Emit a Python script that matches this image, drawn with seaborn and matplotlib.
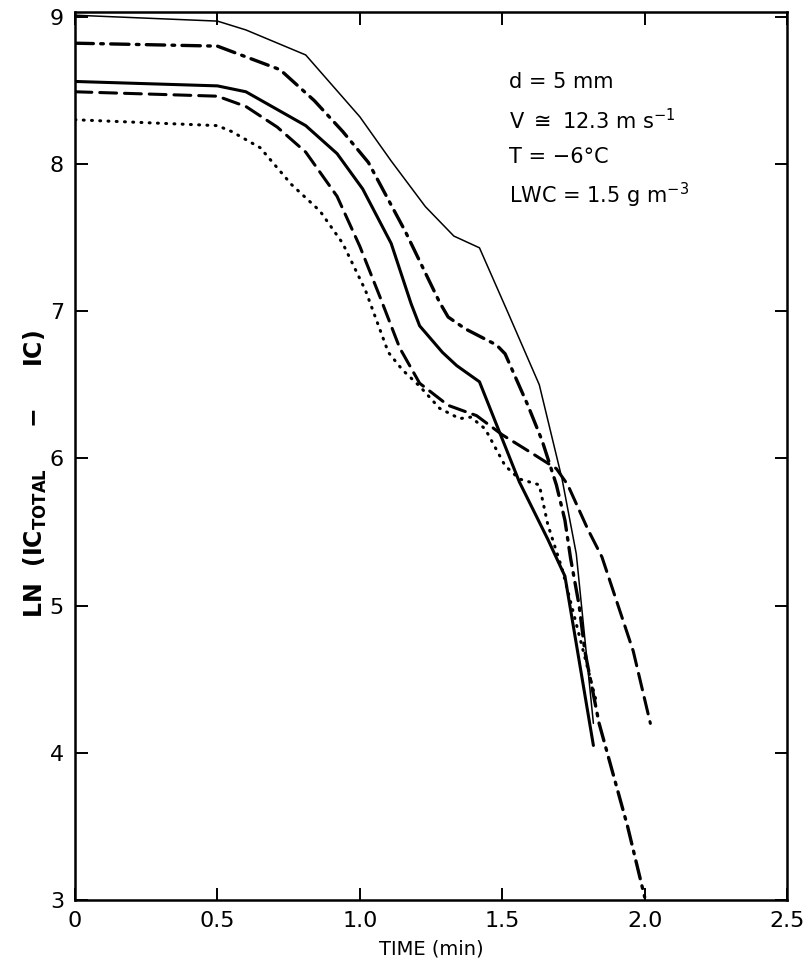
import matplotlib
matplotlib.use("Agg")
import matplotlib.pyplot as plt
import seaborn as sns
import pandas as pd

# ---- data ----
thin_t = [0, 0.5, 0.6, 0.81, 1.0, 1.11, 1.23, 1.33, 1.42, 1.52, 1.63, 1.71, 1.76, 1.82]
thin_y = [9.01, 8.97, 8.91, 8.74, 8.32, 8.02, 7.71, 7.51, 7.43, 6.99, 6.50, 5.86, 5.35, 4.20]

thick_t = [0, 0.5, 0.6, 0.81, 0.92, 1.01, 1.11, 1.18, 1.21, 1.29, 1.34, 1.42, 1.56, 1.66, 1.72, 1.82]
thick_y = [8.56, 8.53, 8.49, 8.26, 8.07, 7.83, 7.46, 7.05, 6.90, 6.72, 6.63, 6.52, 5.84, 5.45, 5.20, 4.05]

dashdot_t = [0, 0.5, 0.61, 0.72, 0.84, 0.94, 1.03, 1.16, 1.28, 1.31, 1.37, 1.48, 1.51,
             1.59, 1.64, 1.69, 1.72, 1.74, 1.77, 1.79, 1.84, 1.89, 1.94, 2.0]
dashdot_y = [8.82, 8.80, 8.72, 8.64, 8.43, 8.22, 8.01, 7.54, 7.06, 6.96, 6.88, 6.77, 6.71,
             6.36, 6.12, 5.82, 5.58, 5.32, 5.00, 4.69, 4.20, 3.85, 3.50, 3.02]

dashed_t = [0, 0.5, 0.6, 0.71, 0.81, 0.92, 1.0, 1.07, 1.14, 1.21, 1.31, 1.41, 1.50,
            1.60, 1.69, 1.73, 1.80, 1.85, 1.96, 2.02]
dashed_y = [8.49, 8.46, 8.39, 8.25, 8.08, 7.78, 7.44, 7.10, 6.75, 6.51, 6.36, 6.29, 6.16,
            6.04, 5.93, 5.82, 5.52, 5.33, 4.69, 4.20]

dotted_t = [0, 0.5, 0.55, 0.65, 0.76, 0.86, 0.94, 1.02, 1.10, 1.15, 1.21, 1.28, 1.35,
            1.39, 1.44, 1.51, 1.56, 1.63, 1.66, 1.71, 1.77, 1.83]
dotted_y = [8.30, 8.26, 8.22, 8.11, 7.86, 7.68, 7.46, 7.14, 6.72, 6.60, 6.49, 6.34, 6.27,
            6.28, 6.20, 5.95, 5.86, 5.82, 5.55, 5.25, 4.80, 4.35]

x_ticks = [0, 0.5, 1.0, 1.5, 2.0, 2.5]
x_tick_labels = ["0", "0.5", "1.0", "1.5", "2.0", "2.5"]
y_ticks = [3, 4, 5, 6, 7, 8, 9]

annotation_lines = ["d = 5 mm", r"V $\cong$ 12.3 m s$^{-1}$", "T = \u22126\u00b0C",
                    r"LWC = 1.5 g m$^{-3}$"]

# ---- style ----
sns.set_style("ticks")
plt.rcParams["font.family"] = ["DejaVu Sans"]
plt.rcParams["mathtext.fontset"] = "dejavusans"
for k in ["text.color", "axes.labelcolor", "xtick.color", "ytick.color", "axes.edgecolor"]:
    plt.rcParams[k] = "black"

fig = plt.figure(figsize=(8.11, 9.66), dpi=100)
ax = fig.add_axes([0.0925, 0.0683, 0.878, 0.919])

series = [
    (thin_t, thin_y, dict(lw=1.1, ls="-")),
    (thick_t, thick_y, dict(lw=2.2, ls="-")),
    (dashdot_t, dashdot_y, dict(lw=2.4, ls=(0, (5.5, 2.2, 0.8, 2.2)))),
    (dashed_t, dashed_y, dict(lw=2.2, ls=(0, (5.5, 2.6)))),
    (dotted_t, dotted_y, dict(lw=2.2, ls=(0, (0.3, 2.4)))),
]
for t, y, st in series:
    df = pd.DataFrame({"t": t, "y": y})
    sns.lineplot(data=df, x="t", y="y", ax=ax, color="black", sort=False,
                 linewidth=st["lw"], linestyle=st["ls"], legend=False)
for line in ax.get_lines():
    line.set_dash_capstyle("round")
    line.set_solid_joinstyle("round")

ax.set_xlim(0, 2.5)
ax.set_ylim(3, 9.03)
ax.set_xticks(x_ticks)
ax.set_xticklabels(x_tick_labels)
ax.set_yticks(y_ticks)
ax.tick_params(direction="in", length=9, width=1.4, top=True, right=True,
               labelsize=16, pad=8, colors="black")
for sp in ax.spines.values():
    sp.set_linewidth(1.8)
    sp.set_color("black")
    sp.set_visible(True)

ax.set_xlabel("TIME (min)", fontsize=14, labelpad=6)
ax.set_ylabel(r"LN  (IC$_{\mathbf{TOTAL}}$     $\mathbf{-}$     IC)", fontsize=17,
              fontweight="bold", labelpad=6)
ax.yaxis.set_label_coords(-0.037, 0.48)

ys = [0.921, 0.878, 0.837, 0.794]
for txt, yy in zip(annotation_lines, ys):
    ax.text(0.61, yy, txt, transform=ax.transAxes, fontsize=15,
            ha="left", va="center")

fig.savefig("out.png", dpi=100)
